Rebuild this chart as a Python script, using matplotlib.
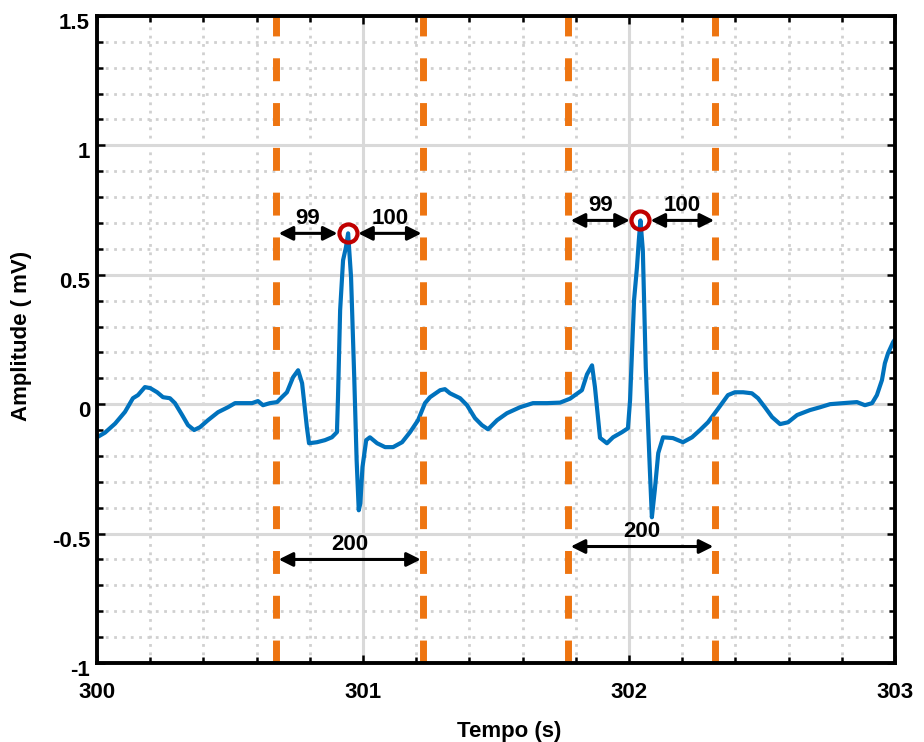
import numpy as np
import matplotlib
matplotlib.use('Agg')
import matplotlib.pyplot as plt
import matplotlib.transforms as mtransforms
from matplotlib.ticker import MultipleLocator

plt.rcParams['font.family'] = ['Liberation Sans', 'DejaVu Sans']
plt.rcParams['font.weight'] = 'bold'

# ECG trace (time in s, amplitude in mV)
t_ecg = [300.000, 300.030, 300.068, 300.105, 300.135, 300.154, 300.180, 300.200,
         300.226, 300.248, 300.274, 300.293, 300.320, 300.342, 300.365, 300.387,
         300.417, 300.455, 300.492, 300.519, 300.556, 300.583, 300.605, 300.624,
         300.650, 300.677, 300.695, 300.714, 300.737, 300.756, 300.771, 300.789,
         300.797, 300.827, 300.857, 300.883, 300.902, 300.906, 300.914, 300.925,
         300.936, 300.944, 300.955, 300.967, 300.976, 300.984, 300.990, 300.998,
         301.012, 301.026, 301.053, 301.083, 301.113, 301.147, 301.177, 301.207,
         301.233, 301.252, 301.290, 301.308, 301.327, 301.365, 301.391, 301.421,
         301.447, 301.470, 301.504, 301.541, 301.590, 301.639, 301.692, 301.741,
         301.778, 301.823, 301.842, 301.861, 301.872, 301.891, 301.917, 301.940,
         301.974, 301.996, 302.004, 302.019, 302.030, 302.037, 302.043, 302.052,
         302.063, 302.078, 302.086, 302.097, 302.110, 302.128, 302.165, 302.203,
         302.237, 302.267, 302.297, 302.331, 302.353, 302.372, 302.398, 302.429,
         302.462, 302.485, 302.511, 302.538, 302.568, 302.598, 302.632, 302.680,
         302.718, 302.756, 302.805, 302.857, 302.887, 302.914, 302.932, 302.951,
         302.962, 302.974, 302.993, 303.000]
v_ecg = [-0.128, -0.110, -0.075, -0.030, 0.023, 0.035, 0.066, 0.062,
         0.046, 0.027, 0.023, 0.004, -0.042, -0.081, -0.100, -0.089,
         -0.062, -0.031, -0.012, 0.004, 0.004, 0.004, 0.012, -0.004,
         0.004, 0.008, 0.027, 0.046, 0.104, 0.131, 0.081, -0.089,
         -0.151, -0.147, -0.139, -0.128, -0.108, 0.027, 0.363, 0.556,
         0.607, 0.660, 0.491, 0.104, -0.216, -0.410, -0.383, -0.243,
         -0.139, -0.128, -0.151, -0.166, -0.166, -0.147, -0.108, -0.062,
         0.004, 0.027, 0.054, 0.058, 0.042, 0.023, -0.004, -0.054,
         -0.081, -0.097, -0.062, -0.035, -0.012, 0.004, 0.004, 0.006,
         0.021, 0.054, 0.115, 0.150, 0.066, -0.130, -0.151, -0.128,
         -0.108, -0.093, 0.015, 0.402, 0.529, 0.634, 0.710, 0.595,
         0.143, -0.243, -0.437, -0.332, -0.189, -0.128, -0.131, -0.147,
         -0.128, -0.100, -0.070, -0.023, 0.008, 0.035, 0.046, 0.046,
         0.042, 0.023, -0.012, -0.050, -0.077, -0.070, -0.042, -0.023,
         -0.012, 0.000, 0.004, 0.008, -0.004, 0.004, 0.035, 0.093,
         0.158, 0.197, 0.240, 0.250]

# R peaks and window borders
peak_t = [300.944, 302.043]
peak_v = [0.660, 0.710]
win_start = [300.672, 301.770]
win_end = [301.225, 302.325]
left_label = ['99', '99']
right_label = ['100', '100']
win_label = ['200', '200']
win_arrow_y = [-0.60, -0.55]

fig = plt.figure(figsize=(9.24, 7.42), dpi=100)
ax = fig.add_axes([0.105, 0.1065, 0.8636, 0.872])

ax.plot(t_ecg, v_ecg, color='#0072BD', lw=3.0, zorder=3,
        solid_joinstyle='round', solid_capstyle='round')

for x in win_start + win_end:
    ax.plot([x, x], [-1, 1.5], color='#EE7511', lw=5, dashes=(3.3, 3.15),
            dash_capstyle='butt', zorder=4)

ax.plot(peak_t, peak_v, 'o', ms=13, mfc='none', mec='#C00000', mew=3, zorder=6)

arrow = dict(arrowstyle='<|-|>', color='k', lw=2.2, mutation_scale=21,
             shrinkA=0, shrinkB=0)
for i in range(2):
    pk, pv = peak_t[i], peak_v[i]
    segs = [(win_start[i] + 0.011, pk - 0.040, left_label[i]),
            (pk + 0.038, win_end[i] - 0.005, right_label[i])]
    for x0, x1, lab in segs:
        ax.annotate('', xy=(x0, pv), xytext=(x1, pv), arrowprops=arrow, zorder=5)
        ax.annotate(lab, xy=((x0 + x1) / 2, pv), xytext=(0, 11),
                    textcoords='offset points', ha='center', va='center',
                    fontsize=16, fontweight='bold')
    y = win_arrow_y[i]
    x0, x1 = win_start[i] + 0.011, win_end[i] - 0.008
    ax.annotate('', xy=(x0, y), xytext=(x1, y), arrowprops=arrow, zorder=5)
    ax.annotate(win_label[i], xy=((x0 + x1) / 2, y), xytext=(0, 11),
                textcoords='offset points', ha='center', va='center',
                fontsize=16, fontweight='bold')

ax.set_xlim(300, 303)
ax.set_ylim(-1, 1.5)
ax.xaxis.set_minor_locator(MultipleLocator(0.2))
ax.yaxis.set_minor_locator(MultipleLocator(0.1))
ax.set_yticks([-1, -0.5, 0, 0.5, 1, 1.5])
ax.set_yticklabels(['-1', '-0.5', '0', '0.5', '1', '1.5'])
ax.set_xticks([300, 301, 302, 303])
ax.set_xticklabels(['300', '301', '302', '303'])

ax.grid(True, which='major', color='#D9D9D9', lw=2.2, zorder=0)
ax.grid(True, which='minor', color='#D0D0D0', lw=2.0, dashes=(1, 2.0), zorder=0)
ax.set_axisbelow(True)

for s in ax.spines.values():
    s.set_linewidth(2.8)
    s.set_zorder(7)
ax.tick_params(which='both', direction='in', top=True, right=True, width=1.8,
               labelsize=16)
ax.tick_params(which='major', length=6)
ax.tick_params(which='minor', length=4)
ax.tick_params(axis='x', pad=14)
ax.tick_params(axis='y', pad=5)

off = mtransforms.ScaledTranslation(0, -0.05, fig.dpi_scale_trans)
for lab in ax.get_yticklabels():
    lab.set_transform(lab.get_transform() + off)

ax.set_xlabel('Tempo (s)', fontsize=16, fontweight='bold')
ax.xaxis.set_label_coords(0.517, -0.09)
ax.set_ylabel('Amplitude ( mV)', fontsize=16, fontweight='bold')
ax.yaxis.set_label_coords(-0.082, 0.505)

fig.savefig('out.png', dpi=100)
